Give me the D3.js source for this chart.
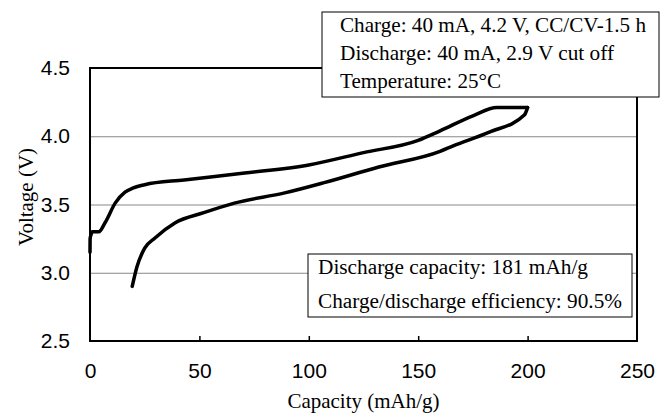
<!DOCTYPE html>
<html>
<head>
<meta charset="utf-8">
<script src="https://cdn.jsdelivr.net/npm/d3@7"></script>
<style>
  body { margin: 0; background: #fff; }
  svg { display: block; font-family: "Liberation Serif", "Times New Roman", serif; }
  .tick text { font-size: 21px; fill: #000; }
</style>
</head>
<body>
<div id="chart"></div>
<script>
// charge branch: capacity (mAh/g), voltage (V)
const chargeCap = [0, 0.05, 0.5, 1, 4, 7, 11.5, 16, 19.5, 25, 43, 70.7, 100, 125, 150, 160, 175, 186, 200];
const chargeV = [3.15, 3.25, 3.28, 3.3, 3.3, 3.37, 3.51, 3.59, 3.62, 3.645, 3.68, 3.73, 3.79, 3.88, 3.97, 4.04, 4.15, 4.21, 4.21];
// discharge branch
const dischargeCap = [200, 198.5, 182.5, 166, 160, 132, 107, 89, 66, 52, 38.8, 29.7, 25, 21.4, 19.3];
const dischargeV = [4.21, 4.155, 4.03, 3.93, 3.89, 3.775, 3.66, 3.585, 3.51, 3.44, 3.365, 3.255, 3.18, 3.04, 2.9];

const xTicks = [0, 50, 100, 150, 200, 250];
const yTicks = [2.5, 3.0, 3.5, 4.0, 4.5];
const gridTicks = [3.0, 3.5, 4.0];

const conditionNotes = ['Charge: 40 mA, 4.2 V, CC/CV-1.5 h', 'Discharge: 40 mA, 2.9 V cut off', 'Temperature: 25°C'];
const resultNotes = ['Discharge capacity: 181 mAh/g', 'Charge/discharge efficiency: 90.5%'];

const width = 662, height = 413;
const margin = { top: 68, right: 25, bottom: 72, left: 90 };
const w = width - margin.left - margin.right;
const h = height - margin.top - margin.bottom;

const svg = d3.select('#chart').append('svg')
    .attr('width', width)
    .attr('height', height);

const g = svg.append('g').attr('transform', `translate(${margin.left},${margin.top})`);

const x = d3.scaleLinear().domain([0, 250]).range([0, w]);
const y = d3.scaleLinear().domain([2.5, 4.5]).range([h, 0]);

// grid
g.append('g')
    .call(d3.axisLeft(y).tickValues(gridTicks).tickSize(-w).tickFormat(''))
    .call((s) => s.select('.domain').remove())
    .call((s) => s.selectAll('line').attr('stroke', '#888').attr('stroke-width', 1));

// frame
g.append('rect')
    .attr('width', w)
    .attr('height', h)
    .attr('fill', 'none')
    .attr('stroke', '#000')
    .attr('stroke-width', 2);

// x axis, ticks pointing in
const xAxis = g.append('g')
    .attr('transform', `translate(0,${h})`)
    .call(d3.axisBottom(x).tickValues(xTicks).tickSize(0).tickPadding(22).tickFormat(d3.format('d')));
xAxis.select('.domain').remove();
g.append('g')
    .attr('transform', `translate(0,${h})`)
    .call(d3.axisTop(x).tickValues(xTicks.slice(1, -1)).tickSize(5).tickFormat(''))
    .call((s) => s.select('.domain').remove())
    .call((s) => s.selectAll('line').attr('stroke', '#000').attr('stroke-width', 1.5));

const yAxis = g.append('g')
    .call(d3.axisLeft(y).tickValues(yTicks).tickSize(0).tickPadding(20).tickFormat(d3.format('.1f')));
yAxis.select('.domain').remove();

// curves
const line = d3.line()
    .x((d) => x(d[0]))
    .y((d) => y(d[1]))
    .curve(d3.curveMonotoneX);

const charge = chargeCap.map((c, i) => [c, chargeV[i]]);
const discharge = dischargeCap.map((c, i) => [c, dischargeV[i]]);

[charge, discharge].forEach((data) => {
  g.append('path')
      .datum(data)
      .attr('fill', 'none')
      .attr('stroke', '#000')
      .attr('stroke-width', 3.5)
      .attr('stroke-linejoin', 'round')
      .attr('stroke-linecap', 'round')
      .attr('d', line);
});

// axis titles
svg.append('text')
    .attr('x', margin.left + w / 2)
    .attr('y', 408)
    .attr('text-anchor', 'middle')
    .attr('font-size', 21)
    .text('Capacity (mAh/g)');

svg.append('text')
    .attr('transform', `translate(33,197) rotate(-90)`)
    .attr('text-anchor', 'middle')
    .attr('font-size', 21)
    .text('Voltage (V)');

// note boxes (text widths fitted to the original layout)
const drawNote = (bx, by, bw, bh, lines, pad, first, step, size, lengths) => {
  const box = svg.append('g');
  box.append('rect')
      .attr('x', bx).attr('y', by)
      .attr('width', bw).attr('height', bh)
      .attr('fill', '#fff')
      .attr('stroke', '#000')
      .attr('stroke-width', 1);
  box.selectAll('text')
      .data(lines)
    .enter().append('text')
      .attr('x', bx + pad)
      .attr('y', (d, i) => by + first + i * step)
      .attr('font-size', size)
      .attr('textLength', (d, i) => lengths[i])
      .attr('lengthAdjust', 'spacingAndGlyphs')
      .text((d) => d);
};

drawNote(322, 12, 337, 85, conditionNotes, 18, 20, 28, 21, [306, 274, 161]);
drawNote(308, 254, 324, 63, resultNotes, 10, 20, 34, 20, [270, 304]);
</script>
</body>
</html>
